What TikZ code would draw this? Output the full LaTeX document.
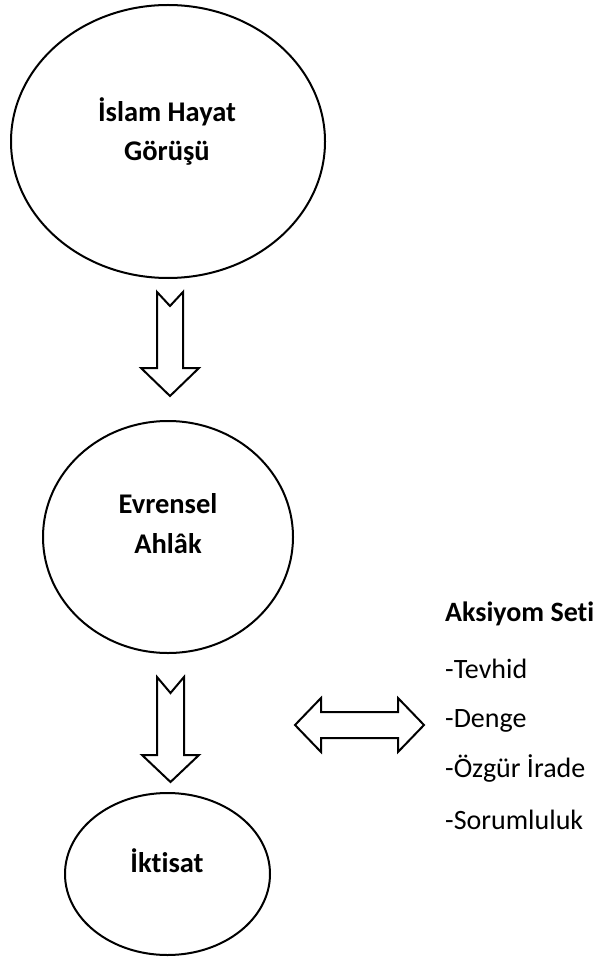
\documentclass[tikz,border=0pt]{standalone}
\usepackage{fontspec}
\setmainfont{Carlito}[Ligatures=NoCommon]
\begin{document}
\begin{tikzpicture}[x=1pt,y=-1pt,
  outl/.style={draw=black,line width=2pt},
  blockarrow/.style={draw=black,line width=2pt,fill=white,line join=miter},
  lbl/.style={font=\fontsize{28.5}{34}\selectfont\bfseries,anchor=base,inner sep=0pt},
  item/.style={font=\fontsize{28}{34}\selectfont,anchor=base west,inner sep=0pt}]
\useasboundingbox[fill=white] (0,0) rectangle (601,957);

% ellipses
\draw[outl] (168,141.5) ellipse [x radius=157, y radius=136.5];
\coordinate (e1) at (168,141.5);
\draw[outl] (168,537) ellipse [x radius=125, y radius=116];
\coordinate (e2) at (168,537);
\draw[outl] (167.5,874) ellipse [x radius=102.5, y radius=81];
\coordinate (e3) at (167.5,874);

\node[lbl] (t1a) at (167,122) {İslam Hayat};
\node[lbl] (t1b) at (167,161) {Görüşü};
\node[lbl] (t2a) at (168,513) {Evrensel};
\node[lbl] (t2b) at (168,553) {Ahlâk};
\node[lbl] (t3) at (167,872) {İktisat};

% down arrow 1
\coordinate (a1) at (170,292);
\draw[blockarrow] (a1) ++(-13,0) -- ++(13,14) -- ++(13,-14) -- (183,368) -- (199,368)
  -- (170,396) -- (141,368) -- (157,368) -- cycle;
% down arrow 2
\coordinate (a2) at (170.5,677);
\draw[blockarrow] (a2) ++(-13.5,0) -- ++(13.5,16) -- ++(13.5,-16) -- (184,755) -- (199,755)
  -- (170.5,782) -- (142,755) -- (157,755) -- cycle;

% double arrow
\coordinate (da) at (359.5,725);
\draw[blockarrow] (295,725) -- (321,698) -- (321,712) -- (398,712) -- (398,698) -- (424,725)
  -- (398,752) -- (398,738) -- (321,738) -- (321,752) -- cycle;

% list
\node[item,font=\fontsize{28}{34}\selectfont\bfseries] (h) at (445,621) {Aksiyom Seti};
\node[item] (l1) at (445,678) {-Tevhid};
\node[item] (l2) at (445,727) {-Denge};
\node[item] (l3) at (445,777) {-Özgür İrade};
\node[item] (l4) at (445,829) {-Sorumluluk};
\end{tikzpicture}
\end{document}
